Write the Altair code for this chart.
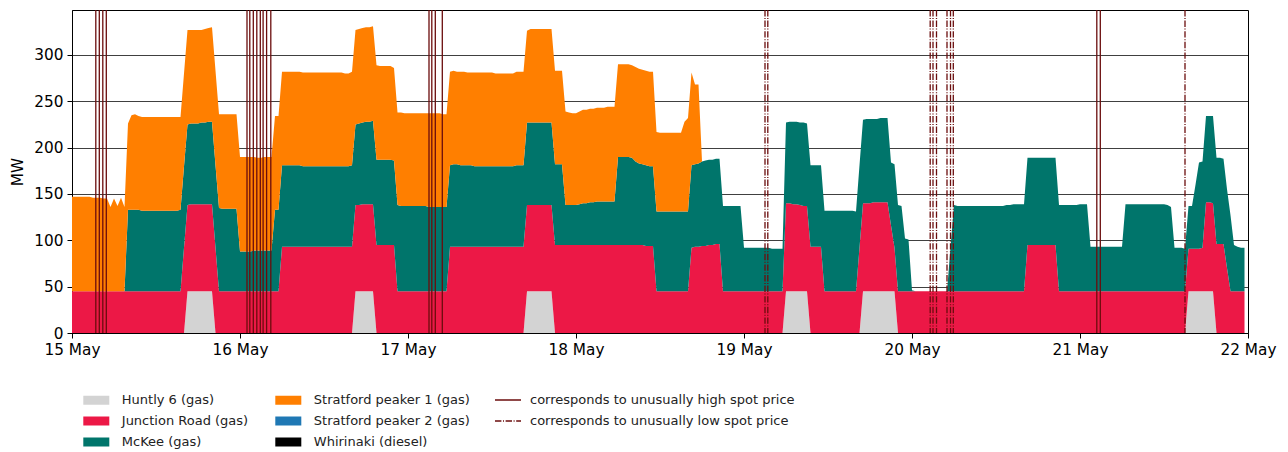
import altair as alt
import pandas as pd

# Half-hourly generation (MW) from 15 May 00:00, one row of 12 values per 6 hours,
# four rows per day.
START = pd.Timestamp("2021-05-15 00:00")
STEP = pd.Timedelta(minutes=30)

huntly_6 = [
    # 15 May
    0, 0, 0, 0, 0, 0, 0, 0, 0, 0, 0, 0,
    0, 0, 0, 0, 0, 0, 0, 0, 0, 0, 0, 0,
    0, 0, 0, 0, 0, 0, 0, 0, 0, 45, 45, 45,
    45, 45, 45, 45, 45, 0, 0, 0, 0, 0, 0, 0,
    # 16 May
    0, 0, 0, 0, 0, 0, 0, 0, 0, 0, 0, 0,
    0, 0, 0, 0, 0, 0, 0, 0, 0, 0, 0, 0,
    0, 0, 0, 0, 0, 0, 0, 0, 0, 45, 45, 45,
    45, 45, 45, 0, 0, 0, 0, 0, 0, 0, 0, 0,
    # 17 May
    0, 0, 0, 0, 0, 0, 0, 0, 0, 0, 0, 0,
    0, 0, 0, 0, 0, 0, 0, 0, 0, 0, 0, 0,
    0, 0, 0, 0, 0, 0, 0, 0, 0, 0, 45, 45,
    45, 45, 45, 45, 45, 45, 0, 0, 0, 0, 0, 0,
    # 18 May
    0, 0, 0, 0, 0, 0, 0, 0, 0, 0, 0, 0,
    0, 0, 0, 0, 0, 0, 0, 0, 0, 0, 0, 0,
    0, 0, 0, 0, 0, 0, 0, 0, 0, 0, 0, 0,
    0, 0, 0, 0, 0, 0, 0, 0, 0, 0, 0, 0,
    # 19 May
    0, 0, 0, 0, 0, 0, 0, 0, 0, 0, 0, 0,
    45, 45, 45, 45, 45, 45, 45, 0, 0, 0, 0, 0,
    0, 0, 0, 0, 0, 0, 0, 0, 0, 0, 45, 45,
    45, 45, 45, 45, 45, 45, 45, 45, 0, 0, 0, 0,
    # 20 May
    0, 0, 0, 0, 0, 0, 0, 0, 0, 0, 0, 0,
    0, 0, 0, 0, 0, 0, 0, 0, 0, 0, 0, 0,
    0, 0, 0, 0, 0, 0, 0, 0, 0, 0, 0, 0,
    0, 0, 0, 0, 0, 0, 0, 0, 0, 0, 0, 0,
    # 21 May
    0, 0, 0, 0, 0, 0, 0, 0, 0, 0, 0, 0,
    0, 0, 0, 0, 0, 0, 0, 0, 0, 0, 0, 0,
    0, 0, 0, 0, 0, 0, 0, 45, 45, 45, 45, 45,
    45, 45, 45, 0, 0, 0, 0, 0, 0, 0, 0, 0,
]

junction_road = [
    # 15 May
    45, 45, 45, 45, 45, 45, 45, 45, 45, 45, 45, 45,
    45, 45, 45, 45, 45, 45, 45, 45, 45, 45, 45, 45,
    45, 45, 45, 45, 45, 45, 45, 45, 92, 93, 94, 94,
    94, 94, 94, 94, 94, 92, 45, 45, 45, 45, 45, 45,
    # 16 May
    45, 45, 45, 45, 45, 45, 45, 45, 45, 45, 45, 45,
    93, 93, 93, 93, 93, 93, 93, 93, 93, 93, 93, 93,
    93, 93, 93, 93, 93, 93, 93, 93, 93, 93, 93, 94,
    94, 94, 94, 95, 95, 95, 95, 95, 95, 45, 45, 45,
    # 17 May
    45, 45, 45, 45, 45, 45, 45, 45, 45, 45, 45, 45,
    93, 93, 93, 93, 93, 93, 93, 93, 93, 93, 93, 93,
    93, 93, 93, 93, 93, 93, 93, 93, 93, 93, 93, 93,
    93, 93, 93, 93, 93, 93, 95, 95, 95, 95, 95, 95,
    # 18 May
    95, 95, 95, 95, 95, 95, 95, 95, 95, 95, 95, 95,
    95, 95, 95, 95, 95, 95, 95, 95, 94, 94, 94, 45,
    45, 45, 45, 45, 45, 45, 45, 45, 45, 92, 93, 93,
    94, 94, 95, 95, 96, 96, 45, 45, 45, 45, 45, 45,
    # 19 May
    45, 45, 45, 45, 45, 45, 45, 45, 45, 45, 45, 45,
    95, 95, 94, 94, 93, 92, 92, 93, 93, 93, 93, 45,
    45, 45, 45, 45, 45, 45, 45, 45, 45, 92, 95, 95,
    95, 96, 96, 96, 96, 96, 71, 47, 45, 45, 45, 45,
    # 20 May
    45, 45, 45, 45, 45, 45, 45, 45, 45, 45, 45, 45,
    45, 45, 45, 45, 45, 45, 45, 45, 45, 45, 45, 45,
    45, 45, 45, 45, 45, 45, 45, 45, 45, 95, 95, 95,
    95, 95, 95, 95, 95, 95, 45, 45, 45, 45, 45, 45,
    # 21 May
    45, 45, 45, 45, 45, 45, 45, 45, 45, 45, 45, 45,
    45, 45, 45, 45, 45, 45, 45, 45, 45, 45, 45, 45,
    45, 45, 45, 45, 45, 45, 45, 46, 46, 46, 46, 47,
    96, 96, 95, 96, 96, 96, 70, 45, 45, 45, 45, 45,
]

mckee = [
    # 15 May
    0, 0, 0, 0, 0, 0, 0, 0, 0, 0, 0, 0,
    0, 0, 0, 0, 88, 88, 88, 88, 87, 87, 87, 87,
    87, 87, 87, 87, 87, 87, 87, 88, 88, 87, 87, 87,
    87, 88, 88, 89, 89, 89, 90, 89, 89, 89, 89, 89,
    # 16 May
    43, 43, 43, 43, 44, 44, 44, 44, 44, 44, 88, 88,
    88, 88, 88, 88, 88, 88, 87, 87, 87, 87, 87, 87,
    87, 87, 87, 87, 87, 87, 87, 87, 88, 87, 88, 88,
    89, 89, 90, 92, 92, 92, 92, 92, 91, 93, 92, 92,
    # 17 May
    92, 92, 92, 92, 92, 92, 91, 91, 91, 91, 91, 91,
    88, 89, 89, 88, 88, 88, 88, 87, 87, 87, 87, 87,
    87, 87, 87, 87, 87, 87, 87, 88, 88, 88, 89, 89,
    89, 89, 89, 89, 89, 89, 87, 87, 87, 43, 43, 43,
    # 18 May
    43, 44, 45, 45, 46, 46, 47, 47, 47, 47, 47, 47,
    95, 95, 95, 95, 94, 90, 88, 87, 87, 86, 86, 86,
    86, 86, 86, 86, 86, 86, 86, 86, 86, 89, 89, 90,
    91, 92, 92, 92, 92, 92, 92, 92, 92, 92, 92, 92,
    # 19 May
    47, 47, 47, 47, 47, 47, 47, 47, 46, 46, 46, 46,
    87, 88, 89, 89, 89, 90, 89, 88, 88, 88, 88, 87,
    87, 87, 87, 87, 87, 87, 87, 87, 86, 89, 90, 91,
    91, 90, 90, 91, 91, 91, 68, 90, 93, 92, 57, 56,
    # 20 May
    1, 0, 0, 0, 0, 0, 0, 0, 0, 0, 0, 47,
    93, 92, 92, 92, 92, 92, 92, 92, 92, 92, 92, 92,
    92, 92, 92, 93, 93, 94, 94, 94, 94, 94, 94, 94,
    94, 94, 94, 94, 94, 94, 93, 93, 93, 93, 93, 93,
    # 21 May
    94, 94, 94, 48, 48, 48, 48, 48, 48, 48, 48, 48,
    48, 94, 94, 94, 94, 94, 94, 94, 94, 94, 94, 94,
    94, 93, 91, 47, 47, 47, 46, 46, 46, 69, 93, 93,
    93, 93, 94, 93, 93, 92, 85, 82, 50, 48, 47, 47,
]

# Stratford peaker 1 only ran during the first four days.
stratford_1 = [
    # 15 May
    102, 102, 102, 102, 102, 102, 101, 101, 101, 100, 100, 91,
    100, 92, 101, 91, 93, 102, 103, 101, 101, 101, 101, 101,
    101, 101, 101, 101, 101, 101, 101, 100, 100, 102, 101, 101,
    101, 100, 101, 101, 102, 102, 101, 102, 102, 102, 102, 102,
    # 16 May
    102, 102, 102, 102, 101, 100, 100, 101, 101, 101, 101, 101,
    101, 101, 101, 101, 101, 101, 101, 101, 101, 101, 101, 101,
    101, 101, 101, 101, 101, 101, 100, 100, 101, 102, 102, 102,
    102, 102, 102, 102, 101, 101, 101, 101, 100, 100, 101, 100,
    # 17 May
    100, 100, 100, 100, 100, 100, 101, 101, 101, 101, 100, 100,
    101, 101, 100, 101, 101, 100, 100, 101, 101, 101, 101, 101,
    101, 100, 100, 100, 100, 100, 100, 101, 101, 101, 99, 101,
    101, 101, 101, 101, 101, 101, 101, 101, 101, 101, 100, 99,
    # 18 May
    99, 100, 101, 101, 101, 101, 101, 101, 101, 102, 102, 102,
    100, 100, 100, 100, 100, 102, 102, 102, 102, 102, 102, 86,
    85, 85, 85, 85, 85, 85, 85, 97, 101, 100, 86, 85,
    0, 0, 0, 0, 0, 0, 0, 0, 0, 0, 0, 0,
]

# Hours after 15 May 00:00 at which the spot price was unusually high / low
high_price_hours = [3.4, 3.9, 4.4, 4.9,
                    25.0, 25.4, 25.9, 26.4, 26.9, 27.3, 27.8, 28.4,
                    51.0, 51.4, 51.9, 52.9,
                    146.4, 146.9]
low_price_hours = [99.0, 99.4,
                   122.6, 123.0, 123.5, 125.0, 125.5, 125.9,
                   159.0]

stations = ["Huntly 6 (gas)", "Junction Road (gas)", "McKee (gas)",
            "Stratford peaker 1 (gas)", "Stratford peaker 2 (gas)",
            "Whirinaki (diesel)"]
station_colors = ["#d3d3d3", "#ec1846", "#00756b", "#ff7f00", "#1f78b4", "#000000"]
HIGH = "corresponds to unusually high spot price"
LOW = "corresponds to unusually low spot price"
EVENT_COLOR = "#6b0d0d"
FONT = "DejaVu Sans"

# Long table for the stacked areas; rank fixes the stacking order (bottom first)
rows = []
for rank, values in enumerate([huntly_6, junction_road, mckee, stratford_1]):
    for k, v in enumerate(values):
        rows.append({"time": START + k * STEP, "station": stations[rank],
                     "mw": v, "rank": rank})
gen = pd.DataFrame(rows)

events = pd.DataFrame(
    [{"time": START + pd.Timedelta(hours=h), "kind": HIGH} for h in high_price_hours]
    + [{"time": START + pd.Timedelta(hours=h), "kind": LOW} for h in low_price_hours]
)

x_enc = alt.X(
    "time:T",
    scale=alt.Scale(domain=[alt.DateTime(year=2021, month=5, date=15),
                            alt.DateTime(year=2021, month=5, date=22)], nice=False),
    axis=alt.Axis(title=None, grid=False, format="%-d %b",
                  values=[alt.DateTime(year=2021, month=5, date=d) for d in range(15, 23)],
                  labelFontSize=15.3, labelPadding=4, tickSize=5, labelFlush=False),
)

areas = alt.Chart(gen).mark_area(opacity=1, interpolate="linear").encode(
    x=x_enc,
    y=alt.Y("mw:Q", stack="zero",
            scale=alt.Scale(domain=[0, 348.5], nice=False),
            axis=alt.Axis(title="MW", values=[0, 50, 100, 150, 200, 250, 300],
                          grid=True, gridColor="#000000", gridOpacity=0.75, gridWidth=1,
                          labelFontSize=15.3, tickSize=5, labelPadding=4,
                          titleFontSize=15.3, titleFontWeight="normal", titlePadding=8)),
    color=alt.Color("station:N",
                    scale=alt.Scale(domain=stations, range=station_colors),
                    legend=alt.Legend(title=None, orient="none", legendX=17.8, legendY=383.5,
                                      columns=2, columnPadding=26, rowPadding=7, padding=0,
                                      symbolType="M-2.89,-1H2.89V1H-2.89Z", symbolSize=81,
                                      symbolStrokeWidth=0, symbolOpacity=1,
                                      labelFont=FONT, labelFontSize=13, labelColor="#222222",
                                      labelOffset=19, labelLimit=400)),
    order=alt.Order("rank:Q"),
)

rules = alt.Chart(events).mark_rule(color=EVENT_COLOR, strokeWidth=1.3).encode(
    x=alt.X("time:T"),
    strokeDash=alt.StrokeDash(
        "kind:N",
        scale=alt.Scale(domain=[HIGH, LOW], range=[[1, 0], [6.4, 1.6, 1, 1.6]]),
        legend=alt.Legend(title=None, orient="none", legendX=429.5, legendY=383.5,
                          rowPadding=7, padding=0,
                          symbolType="M-2.89,0H2.89", symbolSize=81,
                          symbolStrokeColor=EVENT_COLOR, symbolStrokeWidth=1.5,
                          labelFont=FONT, labelFontSize=13, labelColor="#222222",
                          labelOffset=15.5, labelLimit=400)),
)

chart = (
    alt.layer(areas, rules)
    .properties(width=1176, height=323,
                padding={"left": 72, "top": 10, "right": 40, "bottom": 119},
                autosize=alt.AutoSizeParams(type="none"))
    .configure_view(stroke="#000000", strokeWidth=1)
    .configure_axis(labelFont=FONT, titleFont=FONT, labelColor="#000000",
                    titleColor="#000000", domainColor="#000000", tickColor="#000000",
                    domainWidth=1, tickWidth=1, zindex=1)
)

chart.save("out.html", embed_options={"renderer": "svg", "actions": False})
